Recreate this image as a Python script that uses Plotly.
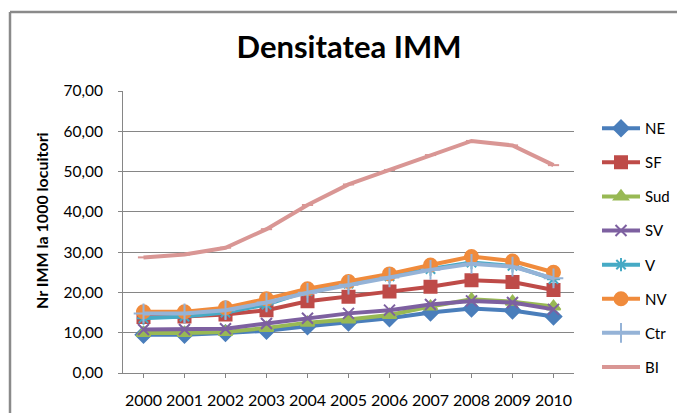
import plotly.graph_objects as go

years = ["2000", "2001", "2002", "2003", "2004", "2005", "2006", "2007", "2008", "2009", "2010"]

NE = [9.5, 9.5, 9.9, 10.5, 11.6, 12.5, 13.6, 15.0, 16.0, 15.5, 14.0]
SF = [13.9, 14.0, 14.5, 15.6, 17.8, 18.9, 20.2, 21.4, 23.0, 22.6, 20.6]
Sud = [9.9, 9.9, 10.2, 11.2, 12.5, 13.3, 14.4, 16.5, 18.3, 17.7, 16.5]
SV = [10.8, 10.8, 11.0, 12.3, 13.6, 14.8, 15.6, 17.0, 17.9, 17.5, 15.8]
V = [13.6, 14.0, 15.0, 17.0, 20.3, 22.2, 24.0, 25.8, 27.4, 26.6, 23.3]
NV = [15.2, 15.2, 16.2, 18.4, 20.9, 22.7, 24.6, 26.8, 28.9, 27.8, 25.0]
Ctr = [14.8, 14.8, 15.6, 17.5, 19.9, 21.9, 23.7, 25.6, 27.1, 26.4, 23.5]
BI = [28.7, 29.4, 31.1, 35.7, 41.7, 46.8, 50.4, 54.1, 57.6, 56.5, 51.6]

series = [
    ("NE", NE, "#4A7EBB", "diamond", 12),
    ("SF", SF, "#BE4B48", "square", 12),
    ("Sud", Sud, "#98B954", "triangle-up", 12),
    ("SV", SV, "#7D60A0", "x-thin", 11),
    ("V", V, "#46AAC5", "asterisk", 11),
    ("NV", NV, "#F08B3C", "circle", 13),
    ("Ctr", Ctr, "#95B3D7", "cross-thin", 14),
    ("BI", BI, "#D99694", "line-ew", 8),
]

fig = go.Figure()
for name, vals, col, sym, sz in series:
    fig.add_trace(go.Scatter(
        x=years, y=vals, name=name, mode="lines+markers",
        legendgroup=name,
        line=dict(color=col, width=4),
        marker=dict(symbol=sym, size=sz, color=col,
                    line=dict(color=col, width=2)),
    ))

L, R, T, B = 123, 574, 91, 373
W, H = 677, 413
pw, ph = R - L, B - T

def px(x):
    return (x - L) / pw

def py(y):
    return (B - y) / ph

fig.update_layout(
    width=W, height=H,
    margin=dict(l=L, r=W - R, t=T, b=H - B, autoexpand=False),
    paper_bgcolor="white", plot_bgcolor="white",
    separators=",.",
    font=dict(family="Lato, sans-serif", color="#222222"),
    title=dict(text="<b>Densitatea IMM</b>", font=dict(size=31, color="#000000"),
               x=349 / W, y=1 - 47 / H, xanchor="center", yanchor="middle",
               xref="container", yref="container"),
    legend=dict(x=px(597), y=py(112), xanchor="left", yanchor="top",
                font=dict(size=15, color="#000000"), tracegroupgap=11.6,
                itemwidth=38, bgcolor="rgba(0,0,0,0)"),
    showlegend=True,
)
fig.update_xaxes(
    type="category", range=[-0.5, 10.5], automargin=False,
    showline=True, linecolor="#868686", linewidth=1,
    showgrid=False, ticks="outside", ticklen=4, tickcolor="#868686",
    tickfont=dict(size=16, color="#000000"), ticklabelstandoff=9,
)
fig.update_yaxes(
    range=[0, 70], dtick=10, tickformat=".2f", automargin=False,
    showline=True, linecolor="#868686", linewidth=1,
    showgrid=True, gridcolor="#868686", gridwidth=1,
    ticks="outside", ticklen=4, tickcolor="#868686",
    tickfont=dict(size=15.5, color="#000000"), ticklabelstandoff=12,
    zeroline=False,
)
fig.add_annotation(text="<b>Nr IMM la 1000 locuitori</b>", textangle=-90,
                   x=px(41), y=py(221), xref="paper", yref="paper",
                   xanchor="center", yanchor="middle",
                   showarrow=False, font=dict(size=16, color="#000000"))
# chart border (left and top visible)
fig.add_shape(type="line", xref="paper", yref="paper",
              x0=px(10), x1=px(10), y0=py(12), y1=py(415),
              line=dict(color="#8a8a8a", width=2.5))
fig.add_shape(type="line", xref="paper", yref="paper",
              x0=px(10), x1=px(680), y0=py(12), y1=py(12),
              line=dict(color="#8a8a8a", width=2.5))

fig.write_html(
    "out.html",
    config={"displayModeBar": False},
    post_script="document.body.style.margin='0';document.body.style.padding='0';"
                "document.documentElement.style.overflow='hidden';",
)
